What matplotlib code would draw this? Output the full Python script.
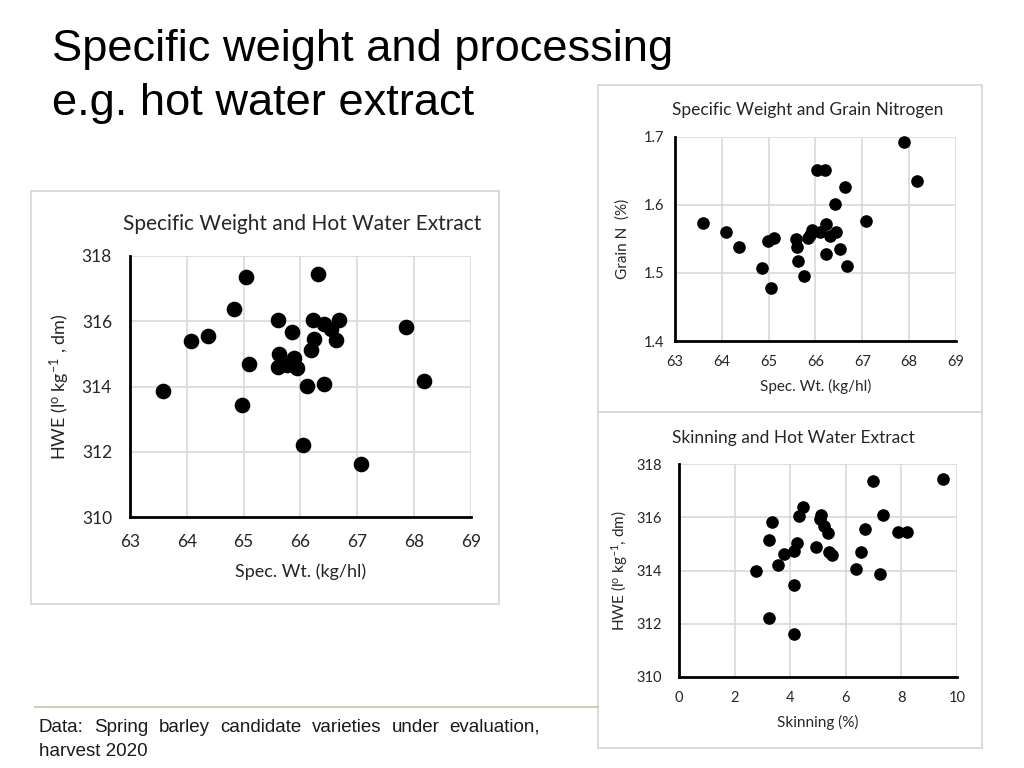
import matplotlib
matplotlib.use('Agg')
import matplotlib.pyplot as plt
from matplotlib.patches import Rectangle
from matplotlib.lines import Line2D

# Specific weight vs hot water extract
sw_hwe_x = [63.58, 64.08, 64.37, 64.83, 65.04, 64.97, 65.10, 65.61, 65.85, 66.22,
            66.42, 66.53, 66.68, 66.63, 66.23, 66.18, 65.62, 65.88, 65.61, 65.77,
            65.94, 66.12, 66.41, 66.05, 66.30, 67.06, 67.86, 68.18]
sw_hwe_y = [313.86, 315.39, 315.55, 316.37, 317.36, 313.44, 314.69, 316.05, 315.66, 316.05,
            315.92, 315.77, 316.05, 315.43, 315.46, 315.13, 315.00, 314.88, 314.59, 314.67,
            314.57, 314.03, 314.08, 312.22, 317.44, 311.62, 315.82, 314.17]

# Specific weight vs grain nitrogen
sw_n_x = [63.59, 64.09, 64.37, 64.85, 64.98, 65.12, 65.05, 65.59, 65.61, 65.63,
          65.75, 65.83, 65.88, 65.93, 66.03, 66.20, 66.09, 66.23, 66.22, 66.32,
          66.43, 66.42, 66.52, 66.63, 66.68, 67.07, 67.88, 68.17]
sw_n_y = [1.574, 1.561, 1.538, 1.507, 1.547, 1.551, 1.478, 1.550, 1.538, 1.518,
          1.496, 1.552, 1.556, 1.563, 1.652, 1.652, 1.560, 1.572, 1.528, 1.554,
          1.560, 1.602, 1.535, 1.626, 1.511, 1.576, 1.692, 1.635]

# Skinning vs hot water extract
sk_x = [2.77, 3.33, 3.24, 3.23, 3.55, 3.79, 4.14, 4.14, 4.14, 4.26,
        4.32, 4.47, 4.93, 5.11, 5.08, 5.21, 5.37, 5.40, 5.49, 6.38,
        6.56, 6.68, 6.98, 7.34, 7.22, 7.88, 8.21, 9.50]
sk_y = [314.00, 315.81, 315.15, 312.21, 314.19, 314.61, 311.61, 313.46, 314.75, 315.03,
        316.06, 316.38, 314.88, 316.09, 315.94, 315.68, 315.40, 314.71, 314.59, 314.06,
        314.71, 315.55, 317.38, 316.09, 313.86, 315.46, 315.46, 317.45]

hwe_ticks = [310, 312, 314, 316, 318]
sw_ticks = [63, 64, 65, 66, 67, 68, 69]
n_ticks = [1.4, 1.5, 1.6, 1.7]
sk_ticks = [0, 2, 4, 6, 8, 10]

CHART_FONT = 'Lato'
TXT = '#262626'
plt.rcParams['mathtext.default'] = 'regular'
W, H = 1024, 768

fig = plt.figure(figsize=(10.24, 7.68), dpi=100)
fig.patch.set_facecolor('white')


def px_rect(x0, y0, x1, y1):
    # pixel box (top-left origin) -> figure fraction [l, b, w, h]
    return [x0 / W, 1 - y1 / H, (x1 - x0) / W, (y1 - y0) / H]


# panel frames (behind the axes)
for x0, y0, x1, y1 in [(31, 191, 499, 604), (598, 85, 982, 412), (598, 412, 982, 748)]:
    l, b, w, h = px_rect(x0, y0, x1, y1)
    fig.patches.append(Rectangle((l, b), w, h, transform=fig.transFigure,
                                 facecolor='white', edgecolor='#d4d4d4', lw=1.2, zorder=-5))


def style_scatter(ax, xt, yt, tick_fs, xpad, ypad, yfmt=None):
    ax.set_facecolor('none')
    ax.set_xticks(xt)
    ax.set_yticks(yt)
    ax.set_xlim(xt[0], xt[-1])
    ax.set_ylim(yt[0], yt[-1])
    if yfmt:
        ax.set_yticklabels([yfmt.format(v) for v in yt])
    ax.grid(True, color='#d9d9d9', lw=1.2)
    ax.set_axisbelow(True)
    for s in ['top', 'right']:
        ax.spines[s].set_visible(False)
    for s in ['left', 'bottom']:
        ax.spines[s].set_linewidth(2)
        ax.spines[s].set_color('black')
    ax.tick_params(length=0, labelsize=tick_fs)
    ax.tick_params(axis='x', pad=xpad)
    ax.tick_params(axis='y', pad=ypad)
    for lab in ax.get_xticklabels() + ax.get_yticklabels():
        lab.set_fontfamily(CHART_FONT)
        lab.set_color(TXT)


# main chart
ax1 = fig.add_axes(px_rect(130, 256, 471, 517))
ax1.scatter(sw_hwe_x, sw_hwe_y, s=105, color='black', zorder=3, clip_on=False)
style_scatter(ax1, sw_ticks, hwe_ticks, 12.5, xpad=12, ypad=13)
ax1.set_title('Specific Weight and Hot Water Extract', fontfamily=CHART_FONT,
              fontsize=15, color=TXT, pad=19, x=0.505)
ax1.set_xlabel('Spec. Wt. (kg/hl)', fontfamily=CHART_FONT, fontsize=13,
               color=TXT, labelpad=10)
ax1.set_ylabel(r'HWE (l$^{o}$ kg$^{-1}$ , dm)', fontfamily=CHART_FONT, fontsize=13,
               color=TXT, labelpad=7)

# grain nitrogen chart
ax2 = fig.add_axes(px_rect(675, 137, 956, 341))
ax2.scatter(sw_n_x, sw_n_y, s=65, color='black', zorder=3, clip_on=False)
style_scatter(ax2, sw_ticks, n_ticks, 10.5, xpad=10, ypad=8, yfmt='{:.1f}')
ax2.set_title('Specific Weight and Grain Nitrogen', fontfamily=CHART_FONT,
              fontsize=12.5, color=TXT, pad=16, x=0.473)
ax2.set_xlabel('Spec. Wt. (kg/hl)', fontfamily=CHART_FONT, fontsize=11,
               color=TXT, labelpad=7)
ax2.set_ylabel('Grain N  (%)', fontfamily=CHART_FONT, fontsize=11,
               color=TXT, labelpad=10)

# skinning chart
ax3 = fig.add_axes(px_rect(679, 464, 957, 677))
ax3.scatter(sk_x, sk_y, s=65, color='black', zorder=3, clip_on=False)
style_scatter(ax3, sk_ticks, hwe_ticks, 10.5, xpad=10, ypad=12)
ax3.set_title('Skinning and Hot Water Extract', fontfamily=CHART_FONT,
              fontsize=12.5, color=TXT, pad=15, x=0.41)
ax3.set_xlabel('Skinning (%)', fontfamily=CHART_FONT, fontsize=11,
               color=TXT, labelpad=7)
ax3.set_ylabel(r'HWE (l$^{o}$ kg$^{-1}$, dm)', fontfamily=CHART_FONT, fontsize=11,
               color=TXT, labelpad=5)

# slide title
fig.text(52 / W, 1 - 50 / H, 'Specific weight and processing', fontfamily='Liberation Sans',
         fontsize=32.6, va='center', ha='left', color='black')
fig.text(52 / W, 1 - 103 / H, 'e.g. hot water extract', fontfamily='Liberation Sans',
         fontsize=32.6, va='center', ha='left', color='black')

# separator and footnote
fig.lines.append(Line2D([35 / W, 598 / W], [1 - 707 / H, 1 - 707 / H],
                        transform=fig.transFigure, color='#c9cfb8', lw=1.5, zorder=-4))
foot1 = 'Data: Spring barley candidate varieties under evaluation,'.split()
# justified first line between x=39 and x=540 px
renderer = fig.canvas.get_renderer()
widths = []
texts = []
for wd in foot1:
    t = fig.text(0, 0, wd, fontfamily='Liberation Sans', fontsize=13.5,
                 va='center', ha='left', color='#1a1a1a')
    widths.append(t.get_window_extent(renderer).width)
    texts.append(t)
gap = (540 - 39 - sum(widths)) / (len(foot1) - 1)
xpos = 39
for t, wpx in zip(texts, widths):
    t.set_position((xpos / W, 1 - 727 / H))
    xpos += wpx + gap
fig.text(39 / W, 1 - 751 / H, 'harvest 2020',
         fontfamily='Liberation Sans', fontsize=13.5, va='center', ha='left', color='#1a1a1a')

fig.savefig('out.png', dpi=100, facecolor='white')
